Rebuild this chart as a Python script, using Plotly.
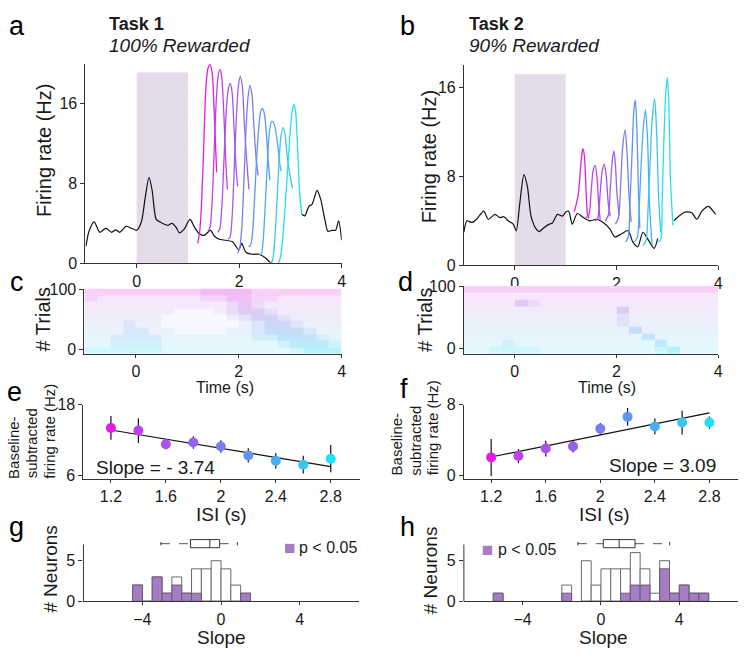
import plotly.graph_objects as go

W, H = 750, 660
FONT = "Liberation Sans, Arial, Helvetica, sans-serif"
TXT = "#1a1a1a"
AX = "#333333"
PURPLE = "#a67cc2"
SHADE = "#e4dbeb"

# ---------------- data ----------------
isi = [1.2, 1.4, 1.6, 1.8, 2.0, 2.2, 2.4, 2.6, 2.8]
isi_colors = ["#e31be8", "#c23ef0", "#a950ed", "#9662ec", "#7b7cec",
              "#5f94ef", "#48aef2", "#38c6f4", "#22e0f4"]

# panel a: mean firing rate (black) and ISI-sorted peaks
a_black_t = [-0.99, -0.93, -0.83, -0.72, -0.6, -0.49, -0.41, -0.33, -0.21, -0.1, 0.0,
             0.09, 0.17, 0.24, 0.3, 0.38, 0.45, 0.54, 0.61, 0.69, 0.77, 0.83, 0.93,
             1.04, 1.13, 1.22, 1.32, 1.44, 1.52, 1.61, 1.74, 1.87, 1.99, 2.05, 2.13,
             2.26, 2.39, 2.52, 2.61, 2.65, None, 3.22, 3.28, 3.36, 3.42, 3.52, 3.59,
             3.67, 3.73, 3.81, 3.88, 3.94, 4.0]
a_black_v = [1.7, 3.2, 4.15, 3.1, 3.5, 3.1, 3.35, 3.1, 3.7, 3.5, 3.3,
             4.1, 6.7, 8.6, 7.35, 4.4, 4.15, 3.9, 3.8, 4.0, 3.6, 3.05, 3.45,
             4.4, 3.6, 2.95, 2.8, 3.3, 2.7, 2.4, 2.3, 2.15, 1.35, 2.0, 1.1,
             0.9, 0.9, 0.5, 0.05, 0.0, None, 4.9, 4.75, 5.7, 5.9, 7.3, 6.4,
             4.4, 3.2, 3.3, 3.3, 4.25, 2.3]
a_curves_t = [
    [1.19, 1.23, 1.27, 1.31, 1.35, 1.39, 1.43, 1.47, 1.51, 1.56],
    [1.39, 1.43, 1.47, 1.51, 1.55, 1.59, 1.625, 1.66, 1.70, 1.74, 1.77],
    [1.58, 1.62, 1.66, 1.70, 1.74, 1.78, 1.825, 1.86, 1.90, 1.94, 1.97],
    [1.78, 1.82, 1.86, 1.90, 1.94, 1.98, 2.02, 2.06, 2.10, 2.15, 2.19],
    [1.97, 2.01, 2.05, 2.09, 2.13, 2.17, 2.21, 2.25, 2.29, 2.33, 2.37],
    [2.18, 2.22, 2.26, 2.30, 2.34, 2.38, 2.42, 2.45, 2.49, 2.53, 2.57, 2.60],
    [2.39, 2.43, 2.47, 2.51, 2.55, 2.59, 2.635, 2.68, 2.72, 2.76, 2.79, 2.82],
    [2.61, 2.65, 2.69, 2.73, 2.77, 2.81, 2.855, 2.89, 2.93, 2.97, 3.01, 3.04],
    [2.76, 2.80, 2.84, 2.88, 2.92, 2.96, 3.00, 3.04, 3.07, 3.10, 3.14, 3.18, 3.22],
]
a_curves_v = [
    [2.0, 3.2, 6.5, 12.0, 17.5, 19.5, 19.9, 19.2, 15.5, 9.1],
    [3.2, 3.6, 6.0, 11.0, 16.0, 18.8, 19.4, 18.6, 15.0, 10.0, 7.4],
    [3.1, 3.4, 5.5, 10.0, 14.5, 17.2, 18.0, 17.2, 13.5, 9.5, 7.7],
    [2.4, 2.6, 4.5, 9.0, 14.0, 17.5, 18.7, 17.8, 14.0, 10.0, 7.4],
    [1.0, 1.5, 3.5, 8.0, 13.0, 16.5, 17.8, 16.8, 13.5, 10.5, 8.8],
    [1.7, 1.8, 3.0, 6.5, 10.5, 13.5, 15.2, 15.5, 15.0, 13.0, 10.0, 8.3],
    [0.85, 0.9, 2.5, 6.0, 10.0, 13.2, 14.2, 14.0, 13.0, 11.5, 10.0, 9.2],
    [0.0, 0.3, 2.0, 5.5, 9.5, 12.5, 13.6, 13.0, 11.0, 9.5, 8.3, 7.5],
    [0.0, 0.5, 2.0, 4.5, 7.5, 10.5, 13.5, 15.4, 15.9, 15.2, 11.5, 7.0, 4.9],
]

# panel b
b_black_t = [-1.0, -0.94, -0.84, -0.74, -0.61, -0.52, -0.39, -0.29, -0.21, -0.13, -0.03,
             0.03, 0.1, 0.18, 0.25, 0.32, 0.42, 0.48, 0.58, 0.68, 0.74, 0.84, 0.94,
             1.0, 1.06, 1.13, 1.23, 1.35, 1.48, 1.61, 1.74, 1.87, 1.97, 2.1, 2.23,
             2.32, 2.42, 2.52, 2.61, 2.74, 2.81, None, 3.13, 3.23, 3.35, 3.48, 3.58,
             3.68, 3.81, 3.9, 3.95]
b_black_v = [2.97, 4.0, 3.85, 4.2, 4.87, 4.14, 4.58, 4.29, 4.37, 4.0, 3.7,
             3.1, 5.6, 8.16, 7.05, 4.43, 3.27, 3.03, 3.4, 3.7, 3.8, 4.58, 4.43,
             4.78, 4.87, 3.7, 4.66, 4.29, 4.0, 4.14, 3.85, 3.27, 2.54, 2.83, 3.12,
             2.1, 1.66, 2.97, 2.39, 1.52, 2.4, None, 4.0, 4.43, 4.78, 4.72, 4.14,
             4.87, 5.3, 4.87, 4.58]
b_curves_t = [
    [1.17, 1.21, 1.25, 1.29, 1.32, 1.34, 1.37, 1.40, 1.43, 1.46],
    [1.39, 1.45, 1.50, 1.54, 1.58, 1.62, 1.65, 1.68],
    [1.58, 1.63, 1.68, 1.72, 1.76, 1.80, 1.84, 1.88],
    [1.78, 1.84, 1.88, 1.92, 1.95, 1.98, 2.01, 2.05],
    [1.98, 2.04, 2.08, 2.12, 2.17, 2.21, 2.25, 2.29],
    [2.18, 2.23, 2.27, 2.31, 2.34, 2.37, 2.40, 2.43, 2.46],
    [2.35, 2.41, 2.45, 2.49, 2.53, 2.57, 2.61, 2.65, 2.70],
    [2.52, 2.58, 2.62, 2.66, 2.70, 2.75, 2.79, 2.83, 2.87],
    [2.82, 2.87, 2.90, 2.93, 2.97, 3.00, 3.03, 3.06, 3.11],
]
b_curves_v = [
    [4.8, 5.5, 6.4, 8.5, 10.0, 10.5, 9.8, 7.0, 4.6, 4.2],
    [4.3, 4.4, 6.5, 8.5, 9.0, 7.8, 5.5, 4.1],
    [4.0, 4.2, 6.5, 8.5, 9.1, 8.0, 5.5, 4.4],
    [4.0, 4.5, 7.0, 9.5, 10.3, 9.0, 6.5, 4.5],
    [3.7, 4.3, 7.0, 10.5, 12.2, 10.0, 6.0, 3.9],
    [2.1, 2.5, 6.0, 10.5, 13.8, 14.9, 12.5, 7.0, 3.3],
    [2.1, 2.5, 5.5, 9.5, 12.5, 14.0, 11.5, 5.5, 1.8],
    [1.8, 2.2, 5.0, 9.0, 13.0, 15.0, 12.0, 6.0, 3.0],
    [2.1, 2.3, 6.0, 11.0, 15.5, 16.9, 14.5, 8.0, 3.6],
]
odor_window = [0.0, 1.0]

# rasters (c, d): spike density per (trial block, 0.25 s bin), bottom block first
raster_t_edges = [-1.0, -0.75, -0.5, -0.25, 0.0, 0.25, 0.5, 0.75, 1.0, 1.25, 1.5,
                  1.75, 2.0, 2.25, 2.5, 2.75, 3.0, 3.25, 3.5, 3.75, 4.0]
raster_trial_edges = [-8, 3, 14, 25, 36, 47, 57, 68, 79, 90, 101]
raster_row_colors = ["#30dcf0", "#40c8f0", "#50b4f0", "#60a0ee", "#7890ec",
                     "#8a80ec", "#a070ea", "#b860ea", "#d050e8", "#e040e0"]
c_density = [
    "22222211111111112333",
    "11222211111111123332",
    "11222211111112233321",
    "11122110000112333211",
    "11121100000012332111",
    "11111100000123321111",
    "11111110001233211111",
    "11111111111232111111",
    "21111111122332211111",
    "22222222233332222222",
]
d_density = [
    "11222211111111123111",
    "11121111111111131111",
    "11111111111111311111",
    "11111111111113111111",
    "11111111111121111111",
    "11111111111121111111",
    "11111111111131111111",
    "11113211111111111111",
    "11111111111111111111",
    "22222222222222222222",
]

# panels e, f: baseline-subtracted firing rate vs ISI
e_rate = [14.05, 13.6, 11.3, 11.6, 10.9, 9.4, 8.5, 7.85, 8.85]
e_err = [2.0, 2.1, 0.85, 1.05, 1.05, 1.2, 1.3, 1.5, 2.3]
f_rate = [2.0, 2.15, 3.0, 3.25, 5.25, 6.6, 5.5, 5.95, 5.95]
f_err = [2.1, 0.8, 0.9, 0.7, 0.65, 1.0, 0.9, 1.35, 0.7]
fit_x = [1.2, 2.8]
e_fit = [13.7, 7.5]
f_fit = [2.05, 7.05]

# panels g, h: histograms of slopes (0.5 bins)
g_centers = [-4.25, -3.75, -3.25, -2.75, -2.25, -1.75, -1.25, -0.75, -0.25, 0.25, 0.75, 1.25]
g_total = [2, 0, 3, 1, 3, 1, 4, 4, 5, 4, 2, 1]
g_sig = [2, 0, 3, 1, 2, 1, 1, 0, 0, 0, 0, 1]
h_centers = [-5.25, -1.75, -0.75, -0.25, 0.25, 0.75, 1.25, 1.75, 2.25, 2.75, 3.25,
             3.75, 4.25, 4.75, 5.25]
h_total = [1, 2, 5, 2, 4, 4, 4, 6, 4, 1, 5, 1, 2, 1, 1]
h_sig = [1, 1, 0, 0, 0, 0, 1, 2, 2, 0, 4, 1, 2, 1, 1]
# box summaries: [lower whisker, q1, median, q3, upper whisker]
g_box = [-3.06, -1.55, -0.57, -0.07, 0.83]
h_box = [-1.18, 0.12, 0.93, 1.74, 3.51]

# ---------------- helpers ----------------
def px(x):
    return x / W


def py(y):
    return 1 - y / H


def hexmix(c, a):
    c = c.lstrip("#")
    r, g, b = int(c[0:2], 16), int(c[2:4], 16), int(c[4:6], 16)
    r = round(255 + (r - 255) * a)
    g = round(255 + (g - 255) * a)
    b = round(255 + (b - 255) * a)
    return "rgb(%d,%d,%d)" % (r, g, b)


fig = go.Figure()
tickfont = dict(family=FONT, size=16, color=TXT)

# domains in pixels: (x0, x1, ytop, ybottom)
doms = {
    1: (86, 344, 57, 262),
    2: (467, 723, 59, 264),
    3: (85, 344, 288, 355),
    4: (467, 723, 285, 355),
    5: (84, 362, 407, 483),
    6: (467, 743, 407, 483),
    7: (84, 361, 543, 609),
    8: (467, 743, 543, 609),
}


def axes(n, xr, yr, xt, yt, xtt=None, ytt=None, yline=True, xticklen=4):
    x0, x1, yt0, yb = doms[n]
    sx = "" if n == 1 else str(n)
    common = dict(showgrid=False, zeroline=False, showline=True, linecolor=AX,
                  linewidth=1, ticks="outside", ticklen=4, tickcolor=AX,
                  tickwidth=1, tickfont=tickfont, fixedrange=True)
    xa = dict(common, domain=[px(x0), px(x1)], anchor="y" + sx, range=xr,
              tickvals=xt, ticklen=xticklen)
    ya = dict(common, domain=[py(yb), py(yt0)], anchor="x" + sx, range=yr,
              tickvals=yt)
    if xtt:
        xa["ticktext"] = xtt
    if ytt:
        ya["ticktext"] = ytt
    if not yline:
        ya["showline"] = False
    fig.update_layout({"xaxis" + sx: xa, "yaxis" + sx: ya})


def ref(n):
    return ("x" if n == 1 else "x%d" % n), ("y" if n == 1 else "y%d" % n)


# ---- panels a, b ----
for n, bt, bv, ct, cv, ytop, shade_top in [
    (1, a_black_t, a_black_v, a_curves_t, a_curves_v, 20, 19.1),
    (2, b_black_t, b_black_v, b_curves_t, b_curves_v, 18, 17.2),
]:
    xr, yr = ref(n)
    fig.add_shape(type="rect", xref=xr, yref=yr, x0=odor_window[0], x1=odor_window[1],
                  y0=0, y1=shade_top, fillcolor=SHADE, line=dict(width=0), layer="below")
    fig.add_trace(go.Scatter(x=bt, y=bv, mode="lines", xaxis=xr, yaxis=yr,
                             line=dict(color="#111111", width=1.2, shape="spline",
                                       smoothing=0.7),
                             connectgaps=False, showlegend=False, hoverinfo="skip"))
    for t, v, col in zip(ct, cv, isi_colors):
        fig.add_trace(go.Scatter(x=t, y=v, mode="lines", xaxis=xr, yaxis=yr,
                                 line=dict(color=col, width=1.3, shape="spline",
                                           smoothing=0.8),
                                 showlegend=False, hoverinfo="skip"))
    axes(n, [-1, 4], [0, ytop], [0, 2, 4], [0, 8, 16])

# ---- panels c, d (rasters) ----
alphas = [0.06, 0.14, 0.24, 0.36, 0.5]
stops = []
nz = len(raster_row_colors) * len(alphas) - 1
for r, col in enumerate(raster_row_colors):
    for lv, a in enumerate(alphas):
        stops.append([(r * len(alphas) + lv) / nz, hexmix(col, a)])
for n, dens in [(3, c_density), (4, d_density)]:
    xr, yr = ref(n)
    z = [[r * len(alphas) + int(ch) for ch in row] for r, row in enumerate(dens)]
    fig.add_trace(go.Heatmap(x=raster_t_edges, y=raster_trial_edges, z=z,
                             colorscale=stops, zmin=0, zmax=nz, showscale=False,
                             xaxis=xr, yaxis=yr, hoverinfo="skip"))
    axes(n, [-1, 4], [-8, 101], [0, 2, 4], [0, 100], xticklen=3)

# ---- panels e, f ----
for n, rate, err, fit, yrng, yt in [
    (5, e_rate, e_err, e_fit, [5.5, 18], [6, 18]),
    (6, f_rate, f_err, f_fit, [-0.4, 8], [0, 8]),
]:
    xr, yr = ref(n)
    fig.add_trace(go.Scatter(x=fit_x, y=fit, mode="lines", xaxis=xr, yaxis=yr,
                             line=dict(color="#111111", width=1.2),
                             showlegend=False, hoverinfo="skip"))
    fig.add_trace(go.Scatter(x=isi, y=rate, mode="markers", xaxis=xr, yaxis=yr,
                             marker=dict(color=isi_colors, size=10, line=dict(width=0)),
                             error_y=dict(type="data", array=err, color="#111111",
                                          thickness=1.2, width=0),
                             showlegend=False, hoverinfo="skip"))
    axes(n, [1.0, 3.01], yrng, [1.2, 1.6, 2.0, 2.4, 2.8], yt,
         xtt=["1.2", "1.6", "2", "2.4", "2.8"], xticklen=3)

# ---- panels g, h ----
for n, cen, tot, sig, box in [
    (7, g_centers, g_total, g_sig, g_box),
    (8, h_centers, h_total, h_sig, h_box),
]:
    xr, yr = ref(n)
    fig.add_trace(go.Bar(x=cen, y=tot, width=0.5, xaxis=xr, yaxis=yr,
                         marker=dict(color="white", line=dict(color="#6a6a6a", width=1)),
                         showlegend=False, hoverinfo="skip"))
    fig.add_trace(go.Bar(x=cen, y=sig, width=0.5, xaxis=xr, yaxis=yr,
                         marker=dict(color=PURPLE, line=dict(color="#6a5a78", width=1)),
                         showlegend=False, hoverinfo="skip"))
    lw, q1, med, q3, uw = box
    yc = 7.1
    dl = dict(color="#555555", width=1, dash="dash")
    sl = dict(color="#333333", width=1)
    fig.add_shape(type="line", xref=xr, yref=yr, x0=lw, x1=q1, y0=yc, y1=yc, line=dl)
    fig.add_shape(type="line", xref=xr, yref=yr, x0=q3, x1=uw, y0=yc, y1=yc, line=dl)
    fig.add_shape(type="line", xref=xr, yref=yr, x0=lw, x1=lw, y0=yc - 0.2, y1=yc + 0.2, line=sl)
    fig.add_shape(type="line", xref=xr, yref=yr, x0=uw, x1=uw, y0=yc - 0.2, y1=yc + 0.2, line=sl)
    fig.add_shape(type="rect", xref=xr, yref=yr, x0=q1, x1=q3, y0=yc - 0.5, y1=yc + 0.5,
                  line=sl, fillcolor="white")
    fig.add_shape(type="line", xref=xr, yref=yr, x0=med, x1=med, y0=yc - 0.5, y1=yc + 0.5, line=sl)
    # y axis line only to 7
    fig.add_shape(type="line", xref=xr + " domain", yref=yr, x0=0, x1=0, y0=0, y1=7,
                  line=dict(color=AX, width=1))
    axes(n, [-7, 7], [0, 7.92], [-4, 0, 4], [0, 5], yline=False, xticklen=3)

fig.update_layout(barmode="overlay")

# ---------------- annotations ----------------
anns = []


def ann(text, x, y, size, xa="center", ya="middle", angle=0, color=TXT):
    anns.append(dict(text=text, x=px(x), y=py(y), xref="paper", yref="paper",
                     xanchor=xa, yanchor=ya, textangle=angle, showarrow=False,
                     font=dict(family=FONT, size=size, color=color)))


for letter, x, y in [("a", 17, 18), ("b", 410, 18), ("c", 17, 281), ("d", 408, 281),
                     ("e", 15, 394), ("f", 407, 391), ("g", 17, 533), ("h", 410, 533)]:
    ann(letter, x, y, 27, color="#000000")

ann("<b>Task 1</b>", 108, 16, 18, xa="left")
ann("<i>100% Rewarded</i>", 108, 38, 19, xa="left")
ann("<b>Task 2</b>", 470, 16, 18, xa="left")
ann("<i>90% Rewarded</i>", 470, 38, 19, xa="left")

ann("Firing rate (Hz)", 45, 146, 20, angle=-90)
ann("Firing rate (Hz)", 432, 153, 20, angle=-90)
ann("# Trials", 43, 320, 20, angle=-90)
ann("# Trials", 428, 320, 20, angle=-90)
ann("Time (s)", 227, 390, 16)
ann("Time (s)", 611, 390, 16)

for xs, yb in [((13, 32, 49), 485), ((399, 418, 435), 482)]:
    for txt, xc in zip(["Baseline-", "subtracted", "firing rate (Hz)"], xs):
        ann(txt, xc, yb, 15, ya="bottom", angle=-90)

ann("ISI (s)", 223, 520, 19)
ann("ISI (s)", 609, 520, 19)
ann("Slope = - 3.74", 95, 472, 19, xa="left")
ann("Slope = 3.09", 723, 470, 19, xa="right")

ann("# Neurons", 50, 576, 19, angle=-90)
ann("# Neurons", 433, 577, 19, angle=-90)
ann("Slope", 223, 646, 19)
ann("Slope", 608, 646, 19)

ann("p < 0.05", 299, 554, 16, xa="left")
ann("p < 0.05", 499, 556, 16, xa="left")
for x0, y0 in [(287, 550), (486, 552)]:
    fig.add_shape(type="rect", xref="paper", yref="paper", x0=px(x0), x1=px(x0 + 9.5),
                  y0=py(y0 + 9.5), y1=py(y0), fillcolor=PURPLE, line=dict(width=0))

fig.update_layout(
    width=W, height=H, margin=dict(l=0, r=0, t=0, b=0),
    paper_bgcolor="white", plot_bgcolor="white",
    annotations=anns, showlegend=False,
    font=dict(family=FONT, color=TXT),
)

fig.write_html("out.html",
               config={"displayModeBar": False, "staticPlot": True},
               post_script="document.body.style.margin='0';document.body.style.padding='0';"
                           "document.documentElement.style.overflow='hidden';")
